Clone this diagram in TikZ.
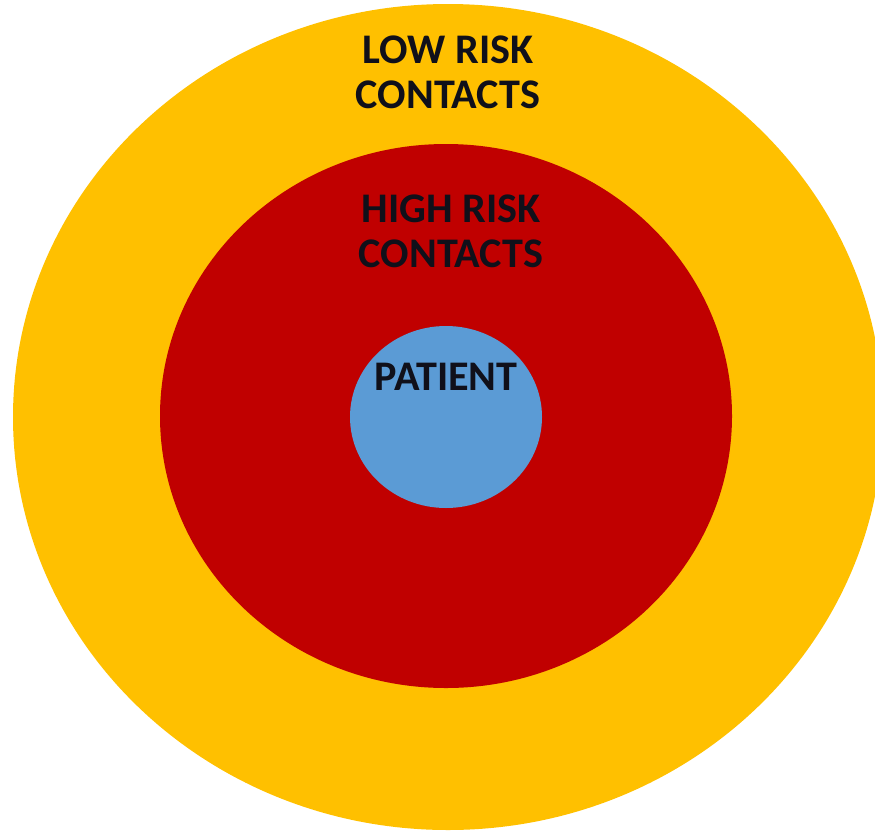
\documentclass[tikz,border=0pt]{standalone}
\usepackage{fontspec}
\setmainfont{Carlito}
\usepackage{tikz}

\definecolor{lowrisk}{HTML}{FFC000}
\definecolor{highrisk}{HTML}{C00000}
\definecolor{patient}{HTML}{5B9BD5}
\definecolor{ink}{HTML}{10101A}

\begin{document}
\begin{tikzpicture}[x=0.02cm, y=-0.02cm, label/.style={text=ink, font=\bfseries\fontsize{24}{25.5}\selectfont, align=center}]
\useasboundingbox (0,0) rectangle (875,832);
\coordinate (O) at (448,417) ;
\fill[lowrisk] (O) ellipse [x radius=435, y radius=413];
\fill[highrisk] (446,416) ellipse [x radius=286, y radius=272];
\fill[patient] (446,417) ellipse [x radius=96, y radius=91];
\node[label] (low) at (448,72) {LOW RISK\\CONTACTS};
\node[label] (high) at (451,231) {HIGH RISK\\CONTACTS};
\node[label] (pat) at (446,377) {PATIENT};
\end{tikzpicture}
\end{document}
